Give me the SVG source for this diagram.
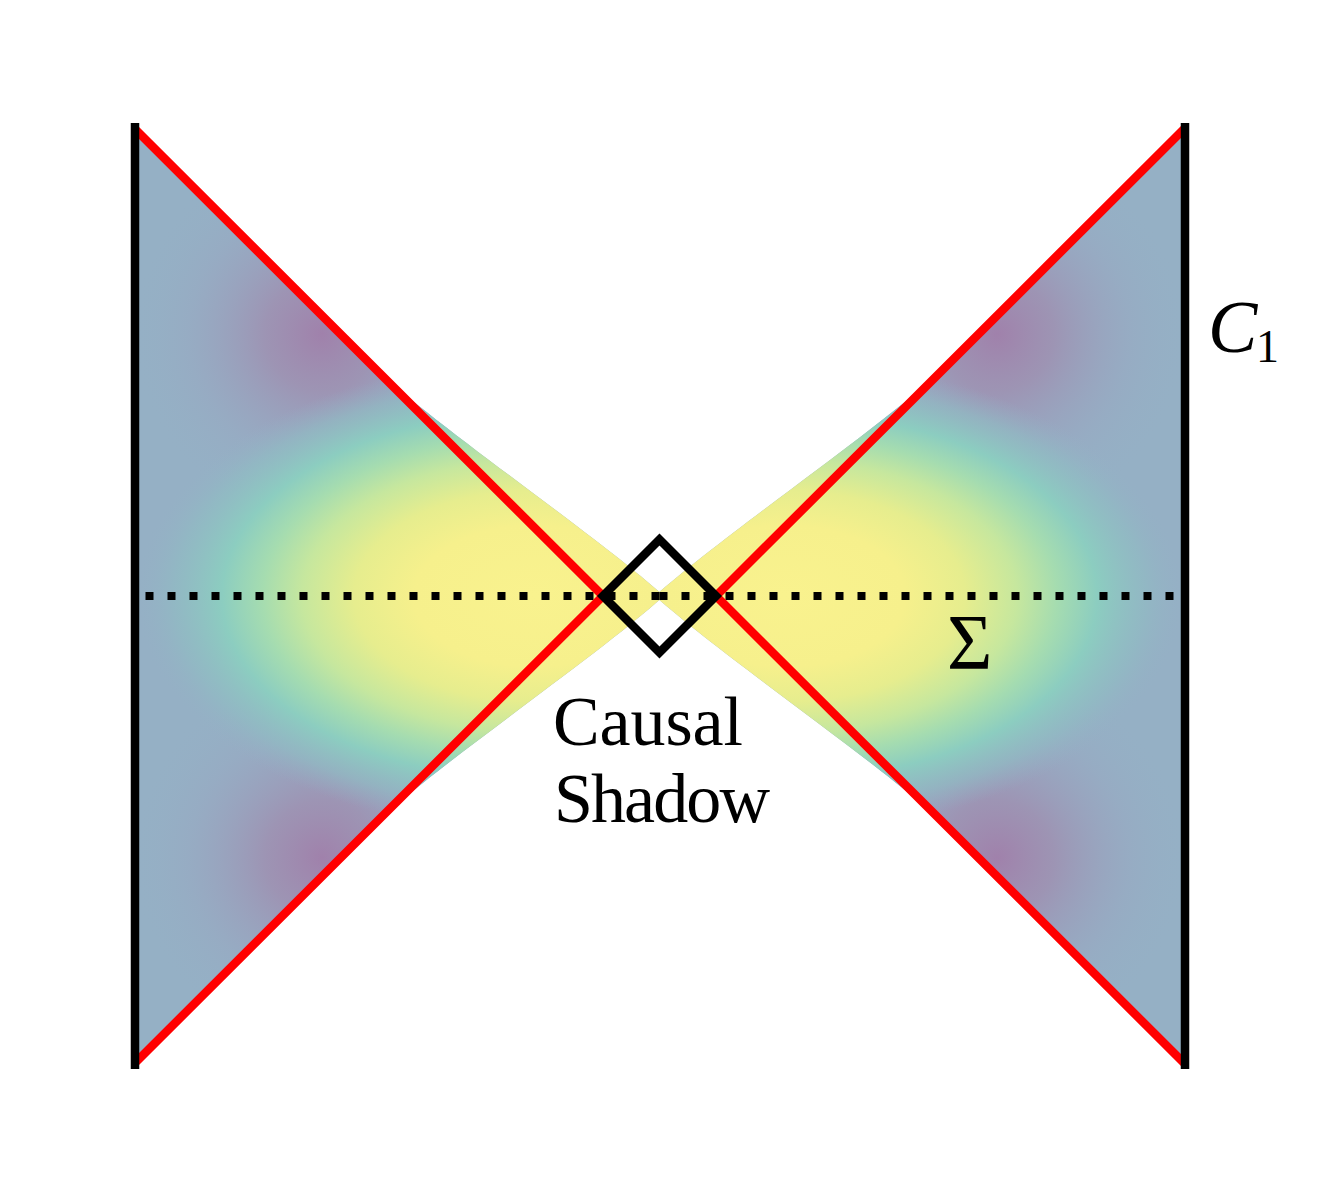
<svg xmlns="http://www.w3.org/2000/svg" xmlns:xlink="http://www.w3.org/1999/xlink" width="1320" height="1193" viewBox="0 0 1320 1193">
<defs>
<radialGradient id="purTop" gradientUnits="userSpaceOnUse" cx="322" cy="334" r="190">
<stop offset="0" stop-color="#a081ab" stop-opacity="1"/>
<stop offset="0.3" stop-color="#a08bae" stop-opacity="0.75"/>
<stop offset="0.7" stop-color="#9b9fbd" stop-opacity="0.25"/>
<stop offset="1" stop-color="#95b0c5" stop-opacity="0"/>
</radialGradient>
<radialGradient id="purBot" gradientUnits="userSpaceOnUse" cx="322" cy="858" r="190">
<stop offset="0" stop-color="#a081ab" stop-opacity="1"/>
<stop offset="0.3" stop-color="#a08bae" stop-opacity="0.75"/>
<stop offset="0.7" stop-color="#9b9fbd" stop-opacity="0.25"/>
<stop offset="1" stop-color="#95b0c5" stop-opacity="0"/>
</radialGradient>
<radialGradient id="yel" gradientUnits="userSpaceOnUse" cx="534" cy="596" r="400" gradientTransform="translate(534 596) scale(1 0.5875) translate(-534 -596)">
<stop offset="0" stop-color="#f9f28e"/>
<stop offset="0.3" stop-color="#f6f08c"/>
<stop offset="0.45" stop-color="#e6ed8e"/>
<stop offset="0.58" stop-color="#c6e79e"/>
<stop offset="0.68" stop-color="#a5dcb0"/>
<stop offset="0.78" stop-color="#8ccdc0"/>
<stop offset="0.9" stop-color="#90bcc3" stop-opacity="0.65"/>
<stop offset="1" stop-color="#95b0c5" stop-opacity="0"/>
</radialGradient>
<path id="wedgeShape" d="M134 128 L365 359 C425 419 590 530 664 596 C590 662 425 773 365 833 L134 1064 Z"/>
<g id="wedgeFill">
<use xlink:href="#wedgeShape" fill="#95b0c5"/>
<use xlink:href="#wedgeShape" fill="url(#purTop)"/>
<use xlink:href="#wedgeShape" fill="url(#purBot)"/>
<use xlink:href="#wedgeShape" fill="url(#yel)"/>
</g>
</defs>
<style>
.red{stroke:#ff0000;stroke-width:8.5;fill:none;stroke-linejoin:miter}
.bnd{stroke:#000;stroke-width:8.5;fill:none}
.dot{stroke:#000;stroke-width:8;fill:none;stroke-dasharray:8 14}
.lbl{font-family:"Liberation Serif","DejaVu Serif",serif;fill:#000}
</style>
<rect width="1320" height="1193" fill="#fff"/>
<g id="wedge-left"><use xlink:href="#wedgeFill"/></g>
<g id="wedge-right"><use xlink:href="#wedgeFill" transform="matrix(-1 0 0 1 1319 0)"/></g>
<g id="connectors">
<path class="dot" d="M659.5 596 H134"/>
<path class="dot" d="M659.5 596 H1185"/>
<path class="red" d="M134 128 L603 596 L134 1064"/>
<path class="red" d="M1185 128 L716 596 L1185 1064"/>
</g>
<g id="causal-shadow-diamond">
<path d="M603 596 L659.5 539.5 L716 596 L659.5 652.5 Z" fill="none" stroke="#000" stroke-width="8.5" stroke-linejoin="miter"/>
</g>
<g id="boundary-left"><path class="bnd" d="M135 123 V1069"/></g>
<g id="boundary-right"><path class="bnd" d="M1185 123 V1069"/></g>
<g id="labels">
<text class="lbl" x="553" y="745" font-size="70" textLength="190" lengthAdjust="spacing">Causal</text>
<text class="lbl" x="554" y="822" font-size="70" textLength="216" lengthAdjust="spacing">Shadow</text>
<text class="lbl" x="947" y="668" font-size="78">Σ</text>
<text class="lbl" x="1208" y="352" font-size="74" font-style="italic">C</text>
<text class="lbl" x="1256" y="362" font-size="46">1</text>
</g>
</svg>
